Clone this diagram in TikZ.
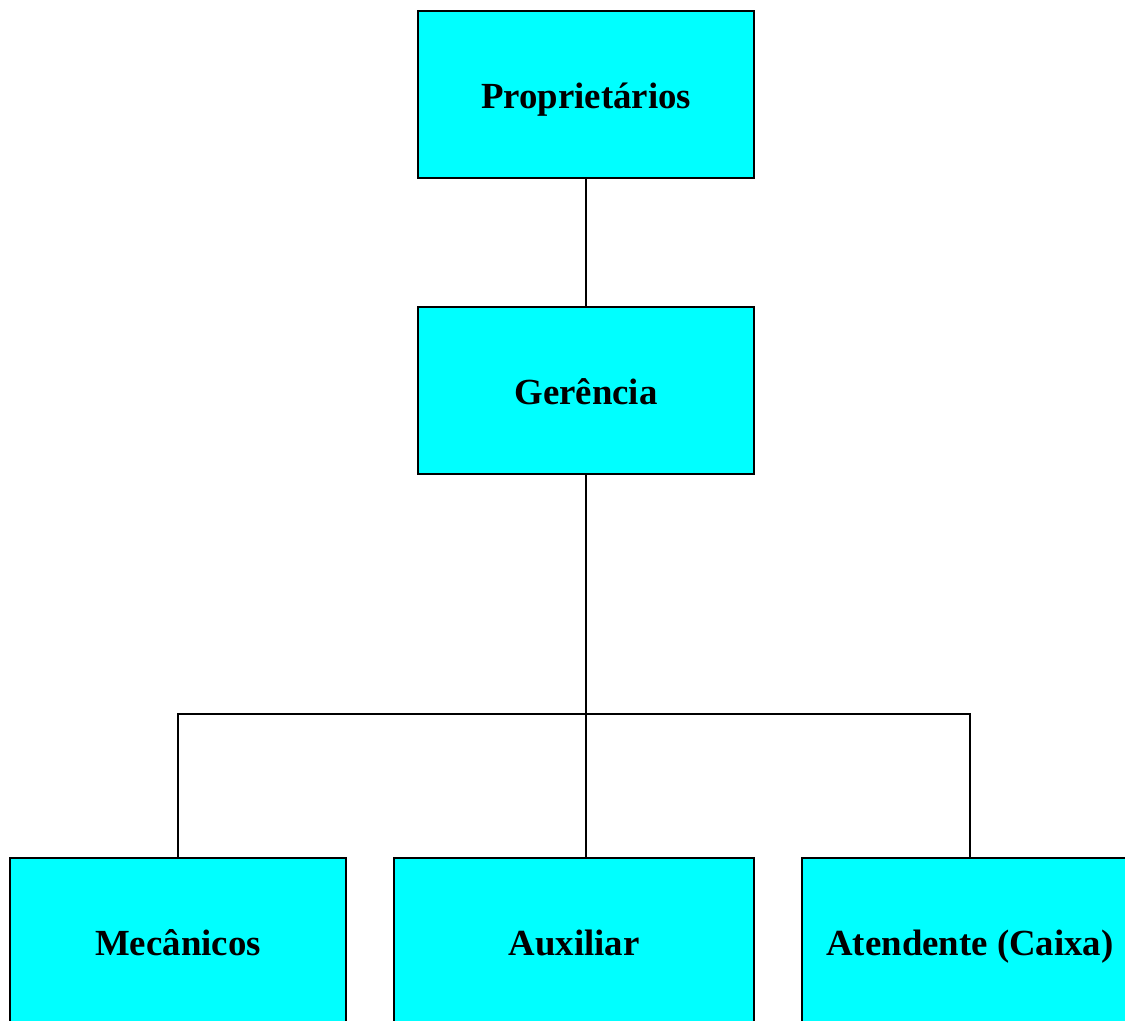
\documentclass[tikz,border=0pt]{standalone}
\usepackage{fontspec}
\setmainfont{Liberation Serif}
\usepackage{xcolor}
\usepackage{tikz}
\usetikzlibrary{positioning,calc}
\definecolor{ciano}{RGB}{0,255,255}

\begin{document}
\begin{tikzpicture}[x=0.5pt, y=-0.5pt,
    caixa/.style={draw=black, line width=1pt, fill=ciano, inner sep=0pt, outer sep=0pt,
        minimum width=168pt, minimum height=83.5pt, text height=14.4pt, text depth=0pt,
        font=\fontsize{18.4}{22}\selectfont\bfseries},
    linha/.style={black, line width=1pt}]
    % page frame
    \useasboundingbox (0,0) rectangle (1125,1021);
    \clip (0,0) rectangle (1125,1021);

    % boxes
    \node[caixa] (prop) at (586,94.5) {Proprietários};
    \node[caixa] (ger) at (586,390.5) {Gerência};
    \node[caixa] (mec) at (178,941.5) {Mecânicos};
    \node[caixa, minimum width=180pt] (aux) at (574,941.5) {Auxiliar};
    \node[caixa] (ate) at (970,941.5) {Atendente (Caixa)};

    % connectors
    \coordinate (ramo) at (586,714);
    \draw[linha] (prop) -- (ger);
    \draw[linha] (ger) -- (ramo);
    \draw[linha] (ramo) -- (ramo |- aux.north);
    \draw[linha] (mec.north) -- (mec.north |- ramo) -- (ate.north |- ramo) -- (ate.north);
\end{tikzpicture}
\end{document}
